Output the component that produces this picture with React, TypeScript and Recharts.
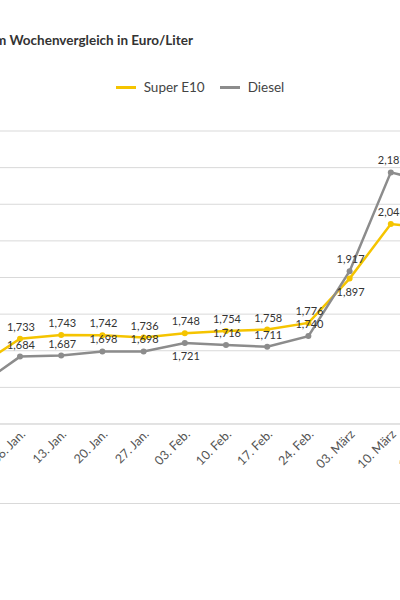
import { LineChart, Line, XAxis, YAxis, CartesianGrid, LabelList } from "recharts";

const weeks = [
  "30. Dez.",
  "06. Jan.",
  "13. Jan.",
  "20. Jan.",
  "27. Jan.",
  "03. Feb.",
  "10. Feb.",
  "17. Feb.",
  "24. Feb.",
  "03. März",
  "10. März",
  "17. März",
];
const superE10 = [1.658, 1.733, 1.743, 1.742, 1.736, 1.748, 1.754, 1.758, 1.776, 1.897, 2.046, 2.034];
const diesel = [1.605, 1.684, 1.687, 1.698, 1.698, 1.721, 1.716, 1.711, 1.74, 1.917, 2.187, 2.16];
const yTicks = [1.5, 1.6, 1.7, 1.8, 1.9, 2.0, 2.1, 2.2, 2.3];

// labels that sit under their point instead of above
const e10Below = ["03. März"];
const dieselBelow = ["03. Feb."];

const data = weeks.map((week, i) => ({ week, e10: superE10[i], diesel: diesel[i] }));

const YELLOW = "#f5c400";
const GREY = "#8c8c8c";
const GRID = "#d9d9d9";
const FONT = "Lato, 'Open Sans', sans-serif";

const fmt = (v: number) => v.toFixed(3).replace(".", ",");

function WeekTick({ x, y, payload }: any) {
  const ax = x + 6;
  const ay = y + 3;
  return (
    <text
      x={ax}
      y={ay}
      transform={`rotate(-45 ${ax} ${ay})`}
      textAnchor="end"
      fill="#555"
      fontSize={12.5}
      fontFamily={FONT}
    >
      {payload.value}
    </text>
  );
}

const pointLabel = (below: string[]) => (props: any) => {
  const x = props.x ?? props.viewBox?.x;
  const y = props.y ?? props.viewBox?.y;
  const isBelow = below.includes(weeks[props.index]);
  return (
    <text
      x={x + 1}
      y={isBelow ? y + 17 : y - 8}
      textAnchor="middle"
      fill="#333"
      fontSize={11}
      fontFamily={FONT}
    >
      {fmt(props.value)}
    </text>
  );
};

function LegendItem({ color, text, last }: { color: string; text: string; last?: boolean }) {
  return (
    <div style={{ display: "flex", alignItems: "center", marginRight: last ? 0 : 15 }}>
      <div style={{ width: 20, height: 3, background: color, marginRight: 8 }} />
      <span>{text}</span>
    </div>
  );
}

export default function App() {
  return (
    <div
      style={{
        position: "fixed",
        top: 0,
        left: 0,
        width: 400,
        height: 600,
        overflow: "hidden",
        background: "#fff",
        fontFamily: FONT,
        color: "#333",
      }}
    >
      <div
        style={{
          position: "absolute",
          top: 32,
          right: 207,
          whiteSpace: "nowrap",
          fontWeight: 700,
          fontSize: 13.5,
          lineHeight: "17px",
        }}
      >
        Kraftstoffpreise im Wochenvergleich in Euro/Liter
      </div>

      <div
        style={{
          position: "absolute",
          top: 79,
          left: 0,
          width: 400,
          display: "flex",
          justifyContent: "center",
          fontSize: 13.5,
          lineHeight: "17px",
          color: "#444",
        }}
      >
        <LegendItem color={YELLOW} text="Super E10" />
        <LegendItem color={GREY} text="Diesel" last />
      </div>

      <div style={{ position: "absolute", top: 0, left: -80 }}>
        <LineChart width={560} height={504} data={data} margin={{ top: 131, right: 48, bottom: 0, left: 8.8 }}>
          <CartesianGrid vertical={false} stroke={GRID} />
          <XAxis
            dataKey="week"
            height={80}
            interval={0}
            tickLine={false}
            axisLine={{ stroke: GRID }}
            tick={<WeekTick />}
          />
          <YAxis
            width={50}
            domain={[1.5, 2.3]}
            ticks={yTicks}
            axisLine={false}
            tickLine={false}
            tickFormatter={(v: number) => v.toFixed(1).replace(".", ",")}
            tick={{ fontSize: 11, fill: "#555", fontFamily: FONT }}
          />
          <Line
            dataKey="e10"
            stroke={YELLOW}
            strokeWidth={2.5}
            dot={{ r: 3, fill: YELLOW, stroke: YELLOW, strokeWidth: 0 }}
            activeDot={false}
            isAnimationActive={false}
          >
            <LabelList dataKey="e10" content={pointLabel(e10Below)} />
          </Line>
          <Line
            dataKey="diesel"
            stroke={GREY}
            strokeWidth={2.5}
            dot={{ r: 3, fill: GREY, stroke: GREY, strokeWidth: 0 }}
            activeDot={false}
            isAnimationActive={false}
          >
            <LabelList dataKey="diesel" content={pointLabel(dieselBelow)} />
          </Line>
        </LineChart>
      </div>

      <div style={{ position: "absolute", top: 503, left: 0, width: 400, height: 1, background: GRID }} />
    </div>
  );
}
